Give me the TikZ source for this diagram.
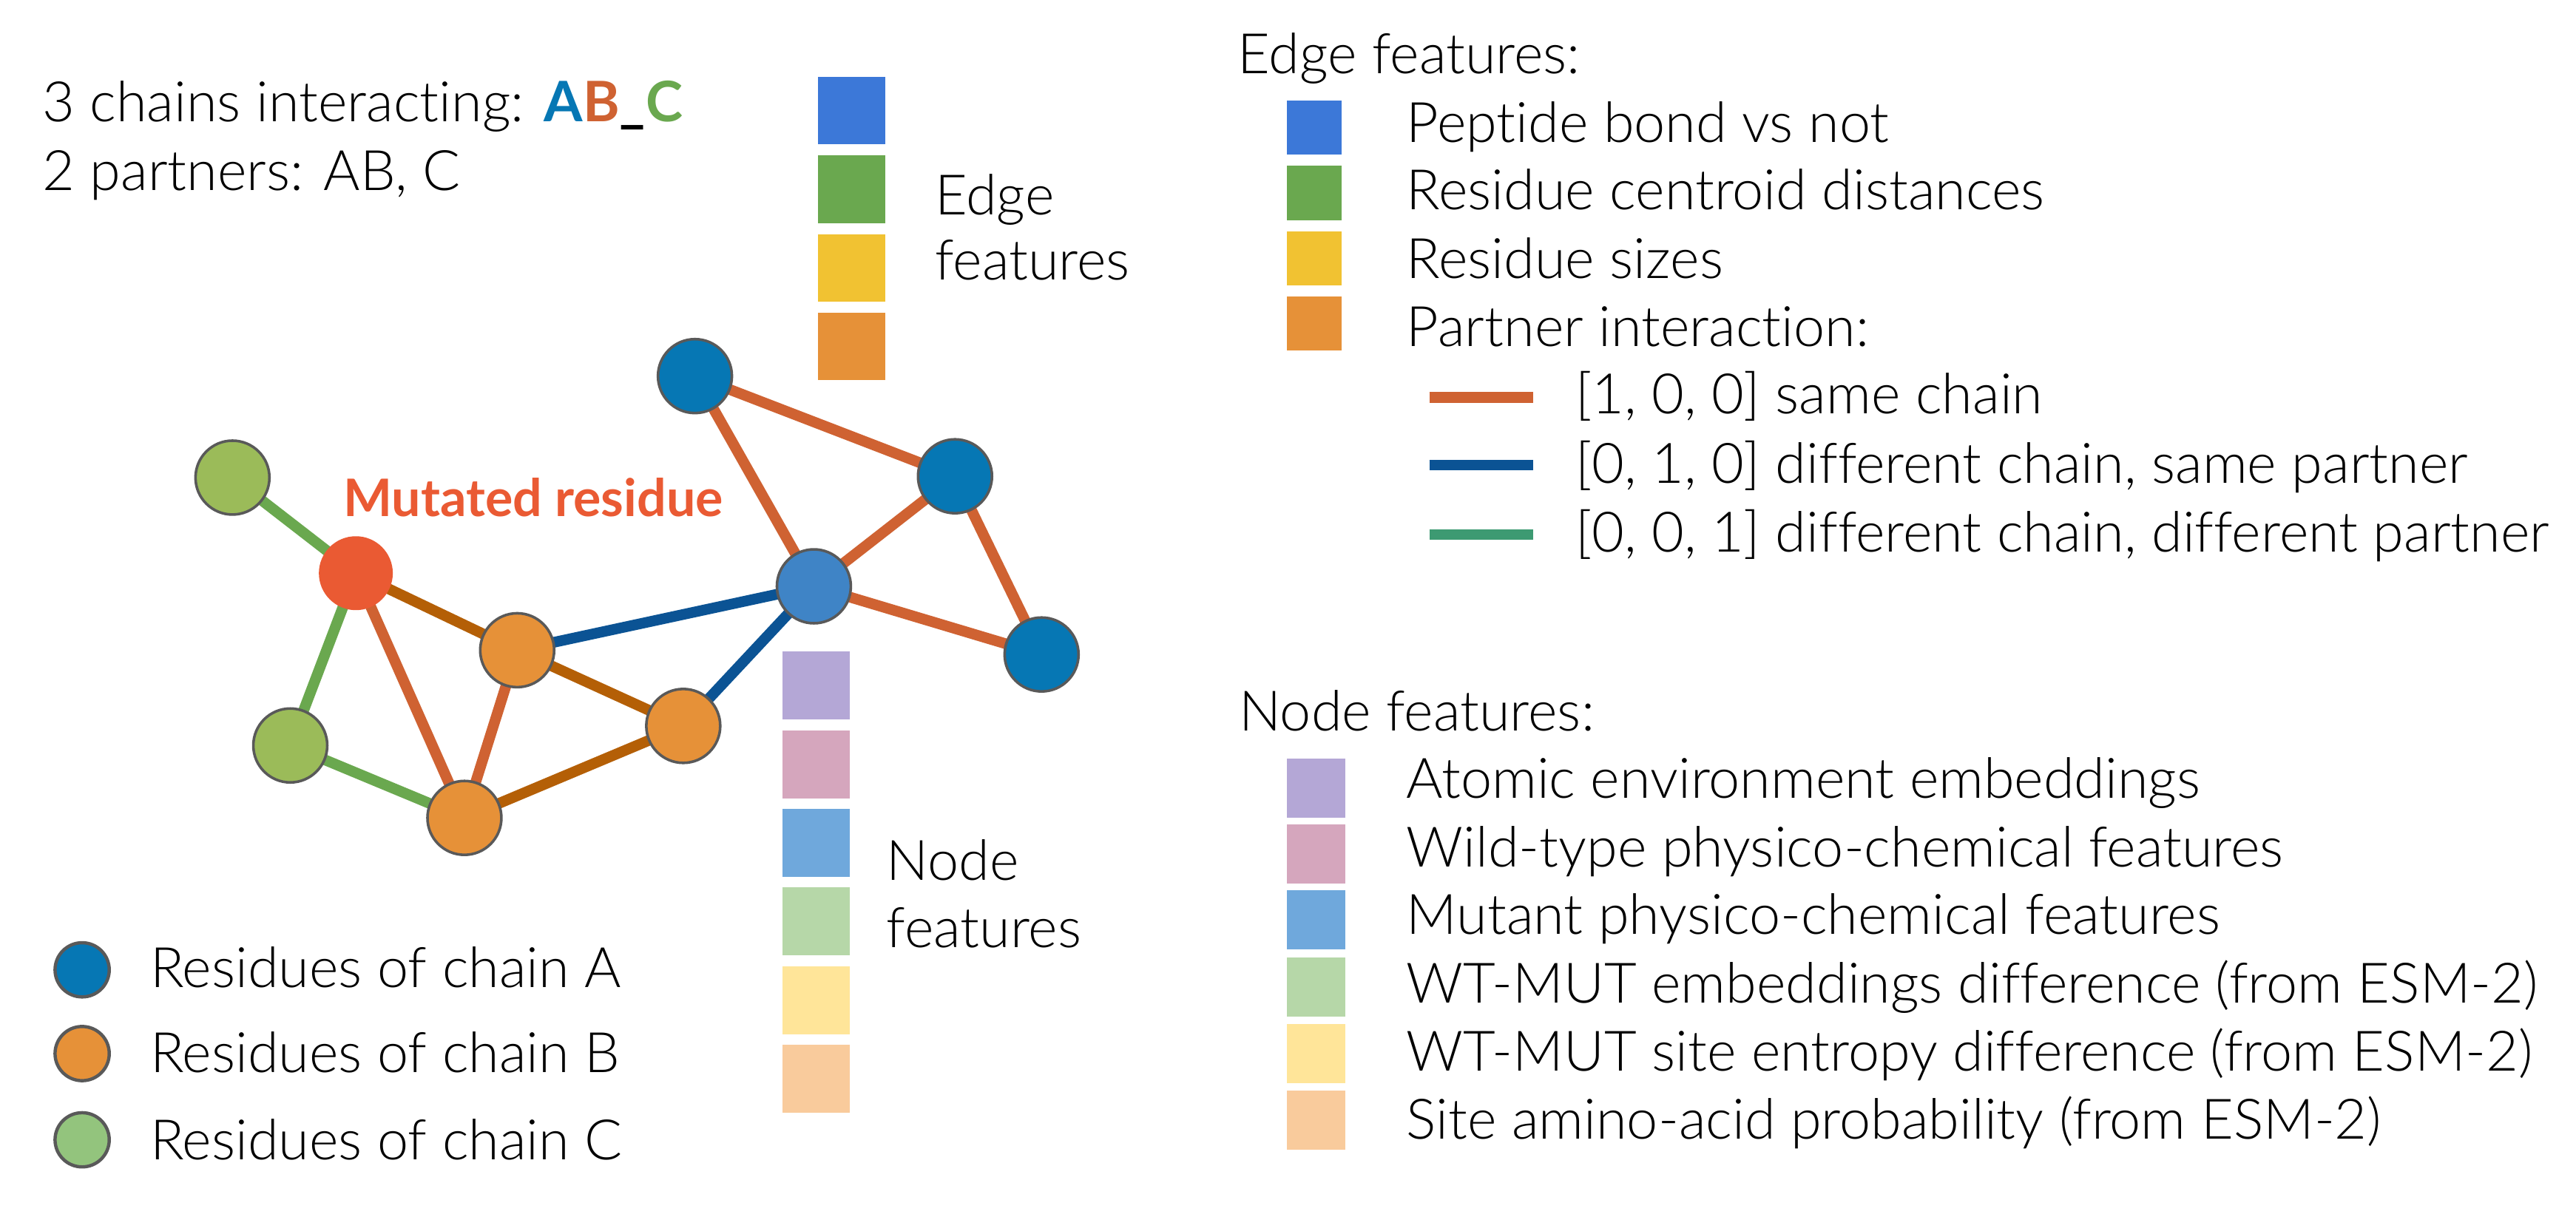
\documentclass[tikz,border=0pt]{standalone}
\usepackage{fontspec}
\setmainfont{Lato Light}[BoldFont={Lato Bold},Ligatures={NoCommon}]
\definecolor{chA}{HTML}{0677B4}
\definecolor{hubA}{HTML}{3F84C6}
\definecolor{chB}{HTML}{E69138}
\definecolor{chC}{HTML}{9BBB59}
\definecolor{chCl}{HTML}{93C47D}
\definecolor{mut}{HTML}{EA5A33}
\definecolor{outl}{HTML}{595959}
\definecolor{same}{HTML}{CF6232}
\definecolor{brown}{HTML}{B45F06}
\definecolor{dblue}{HTML}{0B5394}
\definecolor{teal}{HTML}{3D9A72}
\definecolor{egreen}{HTML}{6AA84F}
\definecolor{sqblue}{HTML}{3C78D8}
\definecolor{sqgreen}{HTML}{6AA84F}
\definecolor{sqyellow}{HTML}{F1C232}
\definecolor{sqorange}{HTML}{E69138}
\definecolor{nfpurple}{HTML}{B4A7D6}
\definecolor{nfpink}{HTML}{D5A6BD}
\definecolor{nfblue}{HTML}{6FA8DC}
\definecolor{nfgreen}{HTML}{B6D7A8}
\definecolor{nfyellow}{HTML}{FFE599}
\definecolor{nforange}{HTML}{F9CB9C}
\pgfdeclarelayer{edgelayer}
\pgfsetlayers{edgelayer,main}
\begin{document}
\begin{tikzpicture}[x=1pt,y=-1pt,
  txt/.style={anchor=base west, inner sep=0pt, font=\fontsize{34}{41}\selectfont},
  res/.style={circle, draw=outl, line width=1.6pt, minimum size=45pt, inner sep=0pt},
  lres/.style={circle, draw=outl, line width=2pt, minimum size=33pt, inner sep=0pt},
  edgeln/.style={line width=6.5pt},
  bigsq/.style={anchor=north west, inner sep=0pt, minimum width=41.2pt, minimum height=41.3pt},
  esq/.style={anchor=north west, inner sep=0pt, minimum width=33pt, minimum height=33pt},
  nsq/.style={anchor=north west, inner sep=0pt, minimum width=35.7pt, minimum height=36pt}]
\begin{pgfonlayer}{edgelayer}
\useasboundingbox[fill=white] (0,0) rectangle (1568,741);
\end{pgfonlayer}

% title text
\node[txt] (t1) at (25.7,74) {3 chains interacting: \textbf{\textcolor{chA}{A}\textcolor{same}{B}\_\textcolor{egreen}{C}}};
\node[txt] (t2) at (25.7,115.7) {2 partners: AB, C};

% graph nodes
\node[res, fill=chC] (C1) at (141.5,290.8) {};
\node[res, draw=none, fill=mut] (M) at (216.6,349) {};
\node[res, fill=chC] (C2) at (176.7,453.9) {};
\node[res, fill=chB] (B1) at (314.8,395.9) {};
\node[res, fill=chB] (B3) at (282.7,498) {};
\node[res, fill=chB] (B2) at (415.9,442) {};
\node[res, fill=hubA] (H) at (495.4,357) {};
\node[res, fill=chA] (At) at (423,229) {};
\node[res, fill=chA] (Ar) at (581.3,290) {};
\node[res, fill=chA] (Ab) at (634,398.5) {};

% edges (behind nodes)
\begin{pgfonlayer}{edgelayer}
\draw[edgeln, egreen] (C1.center) -- (M.center);
\draw[edgeln, egreen] (M.center) -- (C2.center);
\draw[edgeln, egreen] (C2.center) -- (B3.center);
\draw[edgeln, brown] (M.center) -- (B1.center);
\draw[edgeln, same] (M.center) -- (B3.center);
\draw[edgeln, same] (B1.center) -- (B3.center);
\draw[edgeln, brown] (B1.center) -- (B2.center);
\draw[edgeln, brown] (B3.center) -- (B2.center);
\draw[edgeln, dblue] (B1.center) -- (H.center);
\draw[edgeln, dblue] (B2.center) -- (H.center);
\draw[edgeln, same] (H.center) -- (At.center);
\draw[edgeln, same] (At.center) -- (Ar.center);
\draw[edgeln, same] (Ar.center) -- (H.center);
\draw[edgeln, same] (Ar.center) -- (Ab.center);
\draw[edgeln, same] (H.center) -- (Ab.center);
\end{pgfonlayer}

\node[txt, font=\fontsize{31.5}{38}\selectfont\bfseries, text=mut] (mlab) at (208.9,314.4) {Mutated residue};

% edge feature stack
\node[bigsq, fill=sqblue] (es1) at (497.5,46.5) {};
\node[bigsq, fill=sqgreen] (es2) at (497.5,94.5) {};
\node[bigsq, fill=sqyellow] (es3) at (497.5,142.3) {};
\node[bigsq, fill=sqorange] (es4) at (497.5,190.1) {};
\node[txt] (el1) at (569,130.6) {Edge};
\node[txt] (el2) at (569,170.6) {features};

% node feature stack
\node[bigsq, fill=nfpurple] (ns1) at (476,396.6) {};
\node[bigsq, fill=nfpink] (ns2) at (476,444.5) {};
\node[bigsq, fill=nfblue] (ns3) at (476,492.4) {};
\node[bigsq, fill=nfgreen] (ns4) at (476,540.2) {};
\node[bigsq, fill=nfyellow] (ns5) at (476,588.1) {};
\node[bigsq, fill=nforange] (ns6) at (476,636) {};
\node[txt] (nl1) at (539.5,536) {Node};
\node[txt] (nl2) at (539.5,577) {features};

% chain legend
\node[lres, fill=chA] (LA) at (50,590.5) {};
\node[lres, fill=chB] (LB) at (50,641.5) {};
\node[lres, fill=chCl] (LC) at (50,694) {};
\node[txt] (LAt) at (91.3,601.4) {Residues of chain A};
\node[txt] (LBt) at (91.3,653.2) {Residues of chain B};
\node[txt] (LCt) at (91.3,706) {Residues of chain C};

% edge features legend
\node[txt] (ef) at (753.3,44.8) {Edge features:};
\node[esq, fill=sqblue] (eq1) at (783.3,61.1) {};
\node[esq, fill=sqgreen] (eq2) at (783.3,100.8) {};
\node[esq, fill=sqyellow] (eq3) at (783.3,140.7) {};
\node[esq, fill=sqorange] (eq4) at (783.3,180.3) {};
\node[txt] (et1) at (856,86.8) {Peptide bond vs not};
\node[txt] (et2) at (856,127.8) {Residue centroid distances};
\node[txt] (et3) at (856,169.6) {Residue sizes};
\node[txt] (et4) at (856,211) {Partner interaction:};

\coordinate (l1a) at (870,241.9); \coordinate (l1b) at (933,241.9);
\coordinate (l2a) at (870,283.2); \coordinate (l2b) at (933,283.2);
\coordinate (l3a) at (870,325.6); \coordinate (l3b) at (933,325.6);
\draw[edgeln, same] (l1a) -- (l1b);
\draw[edgeln, dblue] (l2a) -- (l2b);
\draw[edgeln, teal] (l3a) -- (l3b);
\node[txt] (lt1) at (958.7,252) {[1, 0, 0] same chain};
\node[txt] (lt2) at (958.7,294.4) {[0, 1, 0] different chain, same partner};
\node[txt] (lt3) at (958.7,335.9) {[0, 0, 1] different chain, different partner};

% node features legend
\node[txt] (nf) at (753.9,444.8) {Node features:};
\node[nsq, fill=nfpurple] (nq1) at (782.9,461.5) {};
\node[nsq, fill=nfpink] (nq2) at (782.9,501.9) {};
\node[nsq, fill=nfblue] (nq3) at (782.9,542.0) {};
\node[nsq, fill=nfgreen] (nq4) at (782.9,582.6) {};
\node[nsq, fill=nfyellow] (nq5) at (782.9,623.2) {};
\node[nsq, fill=nforange] (nq6) at (782.9,664.0) {};
\node[txt] (nt1) at (856,486.1) {Atomic environment embeddings};
\node[txt] (nt2) at (856,527.8) {Wild-type physico-chemical features};
\node[txt] (nt3) at (856,568.9) {Mutant physico-chemical features};
\node[txt] (nt4) at (856,610.5) {WT-MUT embeddings difference (from ESM-2)};
\node[txt] (nt5) at (856,652.2) {WT-MUT site entropy difference (from ESM-2)};
\node[txt] (nt6) at (856,693.5) {Site amino-acid probability (from ESM-2)};
\end{tikzpicture}
\end{document}
